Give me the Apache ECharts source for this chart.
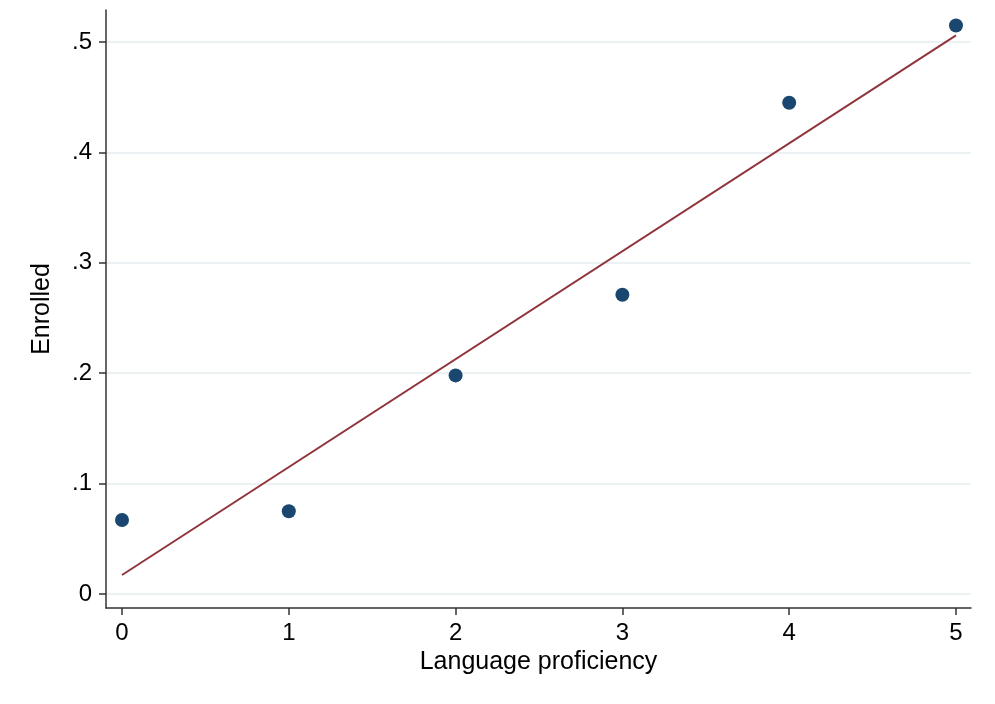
<!DOCTYPE html>
<html><head><meta charset="utf-8">
<script src="https://cdn.jsdelivr.net/npm/echarts@6/dist/echarts.min.js"></script>
<style>html,body{margin:0;padding:0;background:#fff}#c{width:995px;height:704px}</style>
</head><body><div id="c"></div>
<script>
const proficiency = [0, 1, 2, 3, 4, 5];
const enrolled = [0.067, 0.075, 0.198, 0.271, 0.445, 0.515];
const fitX = [0, 5];
const fitY = [0.0172, 0.506];
const xTicks = [0, 1, 2, 3, 4, 5];
const yTicks = [0, 0.1, 0.2, 0.3, 0.4, 0.5];

const chart = echarts.init(document.getElementById('c'), null, {renderer: 'canvas'});
const font = 'Liberation Sans, Arial, sans-serif';
const fmtY = v => Math.abs(v) < 1e-9 ? '0' : v.toFixed(1).replace(/^0/, '');
chart.setOption({
  animation: false,
  grid: {left: 106, top: 10, right: 24, bottom: 96, containLabel: false},
  xAxis: {
    type: 'value', min: -0.096, max: 5.09,
    name: 'Language proficiency', nameLocation: 'middle', nameGap: 41,
    nameTextStyle: {fontFamily: font, fontSize: 25, color: '#000'},
    axisLine: {show: true, onZero: false, lineStyle: {color: '#333', width: 1.5}},
    axisTick: {show: true, length: 7, customValues: xTicks, lineStyle: {color: '#333', width: 1.5}},
    axisLabel: {customValues: xTicks, fontFamily: font, fontSize: 24, color: '#000', margin: 13, formatter: v => String(v)},
    splitLine: {show: false}
  },
  yAxis: {
    type: 'value', min: -0.0127, max: 0.529,
    name: 'Enrolled', nameLocation: 'middle', nameGap: 51, nameRotate: 90,
    nameTextStyle: {fontFamily: font, fontSize: 25, color: '#000'},
    axisLine: {show: true, onZero: false, lineStyle: {color: '#333', width: 1.5}},
    axisTick: {show: true, length: 7, customValues: yTicks, lineStyle: {color: '#333', width: 1.5}},
    axisLabel: {customValues: yTicks, fontFamily: font, fontSize: 24, color: '#000', margin: 14, formatter: fmtY},
    splitLine: {show: true, lineStyle: {color: '#e6eef1', width: 1.5}}
  },
  series: [
    {
      type: 'line', data: fitX.map((x, i) => [x, fitY[i]]), symbol: 'none',
      lineStyle: {color: '#90353b', width: 2}, z: 3
    },
    {
      type: 'scatter', data: proficiency.map((x, i) => [x, enrolled[i]]),
      symbol: 'circle', symbolSize: 14, itemStyle: {color: '#1a476f', opacity: 1}, z: 4
    }
  ]
});
</script></body></html>
